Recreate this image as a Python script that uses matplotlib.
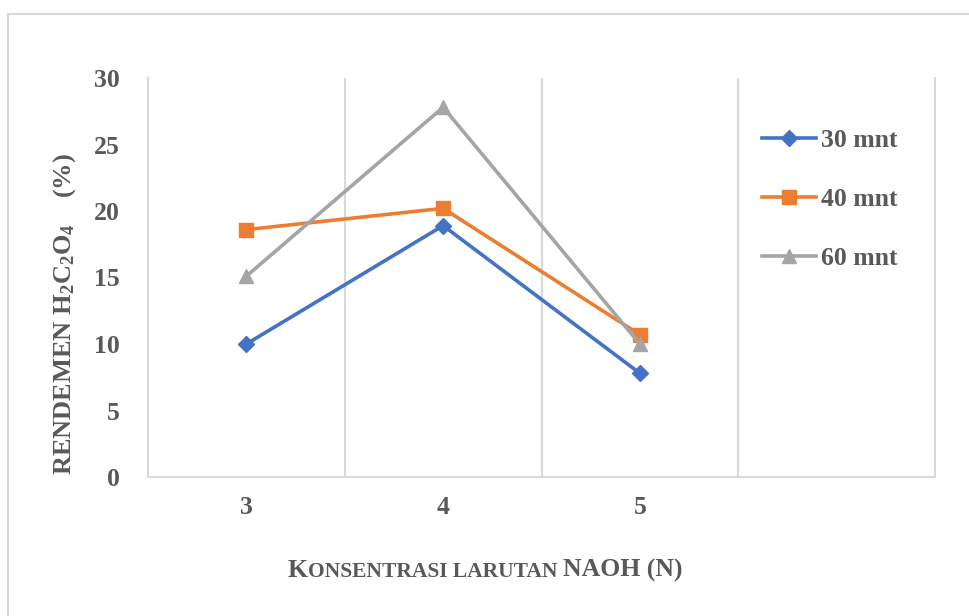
import matplotlib
matplotlib.use('Agg')
import matplotlib.pyplot as plt
from matplotlib.patches import Rectangle

plt.rcParams['font.family'] = ['Liberation Serif', 'DejaVu Serif']
plt.rcParams['font.weight'] = 'bold'
plt.rcParams['mathtext.fontset'] = 'custom'
plt.rcParams['mathtext.rm'] = 'Liberation Serif:bold'
plt.rcParams['mathtext.bf'] = 'Liberation Serif:bold'
plt.rcParams['mathtext.it'] = 'Liberation Serif:bold'
plt.rcParams['mathtext.default'] = 'bf'

# data
categories = ['3', '4', '5', '']
series_names = ['30 mnt', '40 mnt', '60 mnt']
val_30 = [10.0, 18.9, 7.8]
val_40 = [18.6, 20.2, 10.7]
val_60 = [15.1, 27.8, 10.0]
yticks = [0, 5, 10, 15, 20, 25, 30]

colors = ['#4472C4', '#ED7D31', '#A5A5A5']
markers = ['D', 's', '^']
msizes = [8, 10, 10]
txt = '#595959'
grid = '#D9D9D9'
fs = 18.5

fig = plt.figure(figsize=(9.69, 6.16), dpi=100)
fig.patches.append(Rectangle((8/969, -0.5), 2, 1.5 - 14/616, transform=fig.transFigure,
                             fill=False, edgecolor=grid, linewidth=1.5))
ax = fig.add_axes([148/969, (616-477)/616, 787/969, 399/616])

xs = list(range(len(val_30)))
for vals, name, c, m, ms in zip([val_30, val_40, val_60], series_names, colors, markers, msizes):
    ax.plot(xs, vals, color=c, linewidth=2.6, marker=m, markersize=ms,
            markeredgecolor=c, label=name)

ax.set_xlim(-0.5, len(categories) - 0.5)
ax.set_ylim(0, 30)
ax.set_yticks(yticks)
ax.set_xticks(range(len(categories)))
ax.set_xticklabels(categories)
for g in [0.5, 1.5, 2.5]:
    ax.axvline(g, color=grid, linewidth=1.5, zorder=0)

for s in ['left', 'bottom', 'right']:
    ax.spines[s].set_color(grid)
    ax.spines[s].set_linewidth(1.5)
ax.spines['top'].set_visible(False)
ax.tick_params(axis='both', length=0, labelsize=fs, labelcolor=txt)
ax.tick_params(axis='y', pad=20)
ax.tick_params(axis='x', pad=14)

leg = ax.legend(loc='upper left', bbox_to_anchor=(762/969, (616-129)/616),
                bbox_transform=fig.transFigure, frameon=False, fontsize=fs,
                handlelength=2.1, handletextpad=0.2, labelspacing=1.4,
                borderpad=0, borderaxespad=0)
for t in leg.get_texts():
    t.set_color(txt)

fig.text(65/969, (616-314)/616, 'RENDEMEN H$_2$C$_2$O$_4$    (%)', rotation=90,
         ha='center', va='center', fontsize=19, color=txt)

# small caps x label built from pieces
big, small = 18.5, 15.5
t1 = fig.text(288/969, (616-577)/616, 'K', fontsize=big, color=txt, ha='left', va='baseline')
t2 = ax.annotate('ONSENTRASI LARUTAN ', xy=(1, 0), xycoords=t1, va='bottom',
                 fontsize=small, color=txt)
t3 = ax.annotate('NAOH (N)', xy=(1, 0), xycoords=t2, va='bottom',
                 fontsize=big, color=txt)

fig.savefig('out.png', dpi=100)
